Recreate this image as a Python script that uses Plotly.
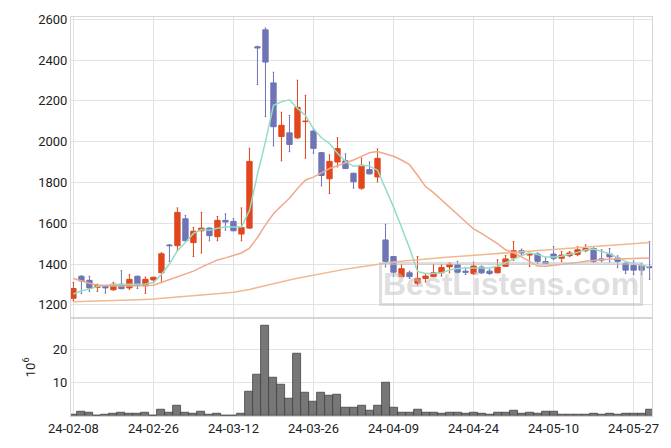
import plotly.graph_objects as go

dates = ["24-02-08","24-02-13","24-02-14","24-02-15","24-02-16","24-02-19","24-02-20","24-02-21","24-02-22","24-02-23",
         "24-02-26","24-02-27","24-02-28","24-02-29","24-03-04","24-03-05","24-03-06","24-03-07","24-03-08","24-03-11",
         "24-03-12","24-03-13","24-03-14","24-03-15","24-03-18","24-03-19","24-03-20","24-03-21","24-03-22","24-03-25",
         "24-03-26","24-03-27","24-03-28","24-03-29","24-04-01","24-04-02","24-04-03","24-04-04","24-04-05","24-04-08",
         "24-04-09","24-04-11","24-04-12","24-04-15","24-04-16","24-04-17","24-04-18","24-04-19","24-04-22","24-04-23",
         "24-04-24","24-04-25","24-04-26","24-04-29","24-04-30","24-05-02","24-05-03","24-05-07","24-05-08","24-05-09",
         "24-05-10","24-05-13","24-05-14","24-05-16","24-05-17","24-05-20","24-05-21","24-05-22","24-05-23","24-05-24",
         "24-05-27","24-05-28","24-05-29"]

open_ = [1232,1340,1320,1285,1290,1274,1301,1283,1340,1293,
         1322,1357,1493,1490,1622,1505,1563,1576,1534,1614,
         1609,1547,1576,2465,2548,2288,2025,2043,2019,2098,
         2052,1946,1818,1900,1906,1845,1772,1863,1827,1518,
         1437,1338,1357,1306,1329,1338,1357,1386,1397,1365,
         1354,1385,1365,1357,1389,1430,1465,1444,1449,1412,
         1449,1428,1441,1447,1466,1476,1425,1449,1430,1402,
         1393,1393,1388]
high = [1309,1342,1340,1301,1292,1310,1367,1348,1340,1336,
        1335,1455,1495,1675,1638,1579,1653,1576,1633,1646,
        1622,1675,1967,2468,2557,2340,2144,2128,2301,2227,
        2063,1947,1935,2019,1940,1845,1919,1900,1964,1595,
        1437,1397,1365,1437,1354,1397,1397,1406,1413,1381,
        1409,1390,1372,1421,1441,1510,1473,1452,1454,1430,
        1485,1461,1461,1485,1494,1485,1470,1476,1440,1408,
        1415,1403,1510]
low = [1220,1255,1266,1266,1257,1272,1279,1276,1280,1256,
       1309,1309,1413,1467,1514,1437,1454,1514,1514,1566,
       1563,1514,1576,2280,2123,1979,1906,1951,2015,1919,
       1943,1783,1746,1876,1868,1772,1767,1842,1803,1386,
       1341,1338,1329,1296,1312,1338,1341,1357,1357,1349,
       1349,1354,1350,1357,1389,1418,1446,1389,1403,1402,
       1421,1413,1436,1441,1461,1408,1413,1410,1382,1354,
       1349,1350,1325]
close = [1280,1317,1283,1295,1283,1301,1279,1325,1295,1325,
         1335,1450,1490,1653,1514,1561,1576,1539,1614,1606,
         1563,1579,1903,2460,2390,2073,2080,1986,2168,2100,
         1967,1834,1903,1966,1868,1803,1884,1842,1918,1413,
         1360,1377,1338,1330,1341,1357,1383,1399,1360,1360,
         1390,1357,1354,1385,1425,1465,1454,1452,1413,1402,
         1428,1444,1454,1470,1476,1413,1420,1435,1413,1370,
         1370,1370,1382]

ma_short = [1253,1269,1277,1290,1295,1299,1299,1300,1299,1302,
            1309,1349,1400,1465,1505,1550,1569,1566,1575,1582,
            1582,1582,1662,1840,2000,2178,2195,2205,2163,2128,
            2063,2019,1991,1943,1903,1879,1884,1880,1860,1772,
            1680,1580,1478,1364,1354,1354,1357,1370,1378,1381,
            1381,1381,1381,1389,1406,1421,1441,1454,1446,1434,
            1434,1438,1446,1457,1470,1473,1461,1450,1430,1413,
            1402,1393,1386]
ma_mid = [1329,1317,1306,1297,1293,1292,1292,1292,1292,1293,
          1296,1309,1325,1338,1349,1365,1385,1404,1420,1430,
          1441,1454,1478,1530,1592,1646,1686,1722,1770,1812,
          1826,1847,1868,1882,1895,1910,1928,1945,1951,1940,
          1928,1910,1887,1835,1780,1750,1715,1680,1645,1610,
          1572,1550,1525,1500,1470,1455,1435,1412,1390,1389,
          1393,1397,1403,1408,1413,1418,1421,1423,1425,1426,
          1427,1428,1429]
ma_long = [1215,1216,1216,1217,1218,1219,1221,1222,1224,1226,
           1228,1231,1234,1237,1241,1245,1248,1252,1255,1258,
           1262,1268,1275,1285,1295,1304,1313,1322,1330,1338,
           1345,1353,1360,1368,1375,1381,1387,1393,1398,1404,
           1410,1413,1417,1420,1424,1427,1430,1434,1437,1440,
           1443,1446,1449,1452,1455,1458,1461,1464,1466,1469,
           1472,1474,1477,1480,1482,1485,1488,1491,1494,1497,
           1500,1503,1506]

volume = [0.4,1.2,0.9,0.1,0.3,0.6,0.9,0.6,0.6,0.9,
          0.1,1.8,0.9,3.2,0.9,0.6,1.2,0.3,0.6,0.2,
          0.2,0.6,7.4,12.4,27.1,11.5,9.4,5.3,18.5,7.1,
          4.4,7.1,6.0,6.5,2.4,2.4,3.2,1.5,3.0,10.0,
          2.4,0.9,1.1,2.0,0.9,0.9,0.6,0.9,0.9,0.6,
          0.9,0.6,0.3,1.1,0.9,1.7,0.6,0.9,0.6,1.4,
          1.2,0.3,0.3,0.3,0.3,0.6,0.3,0.6,0.3,0.6,
          0.6,0.6,1.8]

tick_idx = [0, 10, 20, 30, 40, 50, 60, 70]
tick_labels = [dates[i] for i in tick_idx]

UP = "#E2461C"
DOWN = "#6F74B6"
GRID = "#E3E3E3"
FONT = dict(family="Roboto, Arial, sans-serif", size=13, color="#222222")

fig = go.Figure()
fig.add_trace(go.Candlestick(
    x=dates, open=open_, high=high, low=low, close=close,
    increasing=dict(line=dict(color=UP, width=1), fillcolor=UP),
    decreasing=dict(line=dict(color=DOWN, width=1), fillcolor=DOWN),
    whiskerwidth=0.3, xaxis="x", yaxis="y", showlegend=False))
fig.add_trace(go.Scatter(x=dates, y=ma_short, mode="lines",
    line=dict(color="#94DCC4", width=1.5), xaxis="x", yaxis="y", showlegend=False))
fig.add_trace(go.Scatter(x=dates, y=ma_mid, mode="lines",
    line=dict(color="#EFA98C", width=1.5), xaxis="x", yaxis="y", showlegend=False))
fig.add_trace(go.Scatter(x=dates, y=ma_long, mode="lines",
    line=dict(color="#F2B88E", width=1.5), xaxis="x", yaxis="y", showlegend=False))
fig.add_trace(go.Bar(x=dates, y=volume, marker=dict(color="rgba(95,95,95,0.85)",
    line=dict(color="#444444", width=0.8)), xaxis="x2", yaxis="y2", showlegend=False))

xr = [-0.3, 72.3]
fig.update_layout(
    width=671, height=448,
    margin=dict(l=71, r=19, t=13, b=29),
    paper_bgcolor="white", plot_bgcolor="white",
    font=FONT, bargap=0, boxgap=0.05,
    xaxis=dict(type="category", range=xr, domain=[0, 1], anchor="y",
               tickvals=tick_labels, ticktext=tick_labels, showticklabels=False,
               showgrid=True, gridcolor=GRID, rangeslider=dict(visible=False),
               showline=True, linecolor="#D6D6D6", mirror=True, ticks=""),
    yaxis=dict(domain=[0.249, 1], range=[1142, 2611], tickvals=[1200,1400,1600,1800,2000,2200,2400,2600],
               showgrid=True, gridcolor=GRID, showline=True, linecolor="#D6D6D6", mirror=True,
               zeroline=False, ticks="", tickfont=FONT),
    xaxis2=dict(type="category", range=xr, domain=[0, 1], anchor="y2", matches="x",
                tickvals=tick_labels, ticktext=tick_labels, showgrid=True, gridcolor=GRID,
                showline=True, linecolor="#D6D6D6", mirror=True, ticks="", tickfont=FONT),
    yaxis2=dict(domain=[0, 0.244], range=[0, 29.1], tickvals=[10, 20],
                showgrid=True, gridcolor=GRID, showline=True, linecolor="#D6D6D6", mirror=True,
                zeroline=False, ticks="", tickfont=FONT,
                title=dict(text="10<sup>6</sup>", font=FONT, standoff=14)),
)

fig.add_annotation(xref="paper", yref="paper", x=0.757, y=0.332,
    xanchor="center", yanchor="middle",
    text="<b>BestListens.com</b>", showarrow=False,
    font=dict(family="Arial, Liberation Sans, sans-serif", size=32, color="rgba(195,195,195,0.55)"),
    bordercolor="rgba(195,195,195,0.55)", borderwidth=3, borderpad=1)

fig.write_html("out.html")
